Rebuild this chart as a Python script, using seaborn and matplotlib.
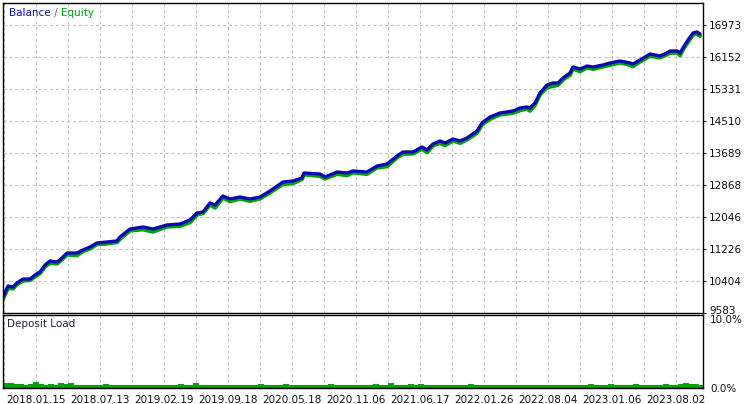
import numpy as np
import matplotlib
matplotlib.use("Agg")
import matplotlib.pyplot as plt
import matplotlib.transforms as mtransforms
from matplotlib.offsetbox import TextArea, HPacker, AnchoredOffsetbox
import seaborn as sns

# deal number (trade sequence) and account curves
deal_no = [0, 2, 5, 10, 14, 20, 27, 32, 37, 42, 47, 54, 57, 64, 74, 80, 87, 94, 104, 114,
           117, 127, 140, 150, 164, 177, 187, 194, 200, 207, 212, 220, 227, 237, 247, 257, 267, 280, 290, 299,
           301, 317, 322, 334, 344, 350, 364, 374, 384, 394, 400, 410, 419, 424, 430, 437, 442, 450, 457, 464,
           474, 479, 487, 497, 510, 517, 524, 527, 532, 537, 544, 550, 555, 560, 567, 570, 577, 584, 590, 600,
           607, 617, 627, 630, 637, 647, 657, 664, 667, 674, 677, 680, 685, 690, 694, 697]
balance = [10000, 10096, 10276, 10250, 10353, 10455, 10455, 10558, 10635, 10814, 10917, 10891, 10943, 11122,
           11122, 11199, 11276, 11379, 11405, 11430, 11533, 11738, 11789, 11738, 11841, 11866, 11969, 12149,
           12174, 12405, 12354, 12585, 12508, 12559, 12508, 12559, 12713, 12944, 12970, 13047, 13175, 13149,
           13072, 13200, 13175, 13226, 13200, 13354, 13406, 13611, 13714, 13714, 13842, 13765, 13919, 13996,
           13945, 14047, 13996, 14073, 14252, 14458, 14612, 14714, 14766, 14842, 14868, 14842, 14971, 15227,
           15433, 15484, 15484, 15612, 15740, 15894, 15843, 15920, 15894, 15946, 15997, 16048, 15997, 15971,
           16074, 16228, 16177, 16254, 16305, 16305, 16254, 16382, 16587, 16767, 16792, 16741]
equity = [9940, 10056, 10226, 10210, 10323, 10415, 10425, 10518, 10605, 10774, 10867, 10851, 10913, 11082,
          11062, 11169, 11236, 11349, 11365, 11400, 11483, 11698, 11729, 11668, 11801, 11816, 11909, 12109,
          12144, 12365, 12284, 12545, 12448, 12519, 12458, 12519, 12673, 12894, 12910, 13017, 13135, 13099,
          13032, 13150, 13115, 13186, 13150, 13314, 13346, 13571, 13664, 13674, 13792, 13705, 13879, 13946,
          13885, 14007, 13946, 14033, 14202, 14418, 14562, 14674, 14716, 14782, 14828, 14772, 14921, 15187,
          15373, 15404, 15434, 15572, 15690, 15854, 15783, 15880, 15844, 15906, 15947, 16008, 15947, 15911,
          16034, 16178, 16137, 16214, 16255, 16265, 16194, 16342, 16537, 16727, 16742, 16691]

# deposit load in %, one value per 5 deals
deposit_load = [0.75, 0.7, 0.55, 0.5, 0.45, 0.6, 0.85, 0.5, 0.45, 0.5,
                0.45, 0.65, 0.5, 0.7, 0.4, 0.45, 0.4, 0.4, 0.35, 0.4,
                0.5, 0.35, 0.35, 0.4, 0.35, 0.35, 0.4, 0.35, 0.45, 0.4,
                0.35, 0.4, 0.35, 0.4, 0.35, 0.55, 0.4, 0.35, 0.65, 0.45,
                0.4, 0.35, 0.35, 0.4, 0.35, 0.35, 0.4, 0.35, 0.35, 0.4,
                0.35, 0.5, 0.4, 0.35, 0.4, 0.35, 0.5, 0.4, 0.35, 0.4,
                0.35, 0.4, 0.35, 0.4, 0.35, 0.5, 0.4, 0.35, 0.4, 0.45,
                0.4, 0.35, 0.45, 0.4, 0.55, 0.45, 0.4, 0.7, 0.45, 0.4,
                0.4, 0.55, 0.4, 0.5, 0.4, 0.35, 0.4, 0.35, 0.4, 0.35,
                0.4, 0.35, 0.4, 0.55, 0.4, 0.35, 0.4, 0.35, 0.4, 0.35,
                0.4, 0.35, 0.4, 0.45, 0.4, 0.35, 0.4, 0.35, 0.4, 0.35,
                0.35, 0.4, 0.35, 0.4, 0.35, 0.4, 0.4, 0.6, 0.4, 0.35,
                0.4, 0.5, 0.4, 0.35, 0.4, 0.4, 0.55, 0.4, 0.4, 0.45,
                0.4, 0.45, 0.6, 0.45, 0.4, 0.5, 0.65, 0.5, 0.6, 0.4]

y_ticks = [9583, 10404, 11226, 12046, 12868, 13689, 14510, 15331, 16152, 16973]
date_labels = ["2018.01.15", "2018.07.13", "2019.02.19", "2019.09.18", "2020.05.18", "2020.11.06",
               "2021.06.17", "2022.01.26", "2022.08.04", "2023.01.06", "2023.08.02"]

BLUE = "#0a0ab4"
GREEN = "#00a400"
GRID = "#c8c8c8"
TXT = "#101010"

sns.set_style("white")
plt.rcParams["font.family"] = ["DejaVu Sans"]
plt.rcParams["font.size"] = 7.5

W, H = 746, 404
fig = plt.figure(figsize=(W / 100, H / 100), dpi=100)
ax = fig.add_axes([3 / W, 1 - 313 / H, 700 / W, 310 / H])
ax2 = fig.add_axes([3 / W, 1 - 388 / H, 700 / W, 73 / H])

x_max = 700
major = np.arange(1, x_max, 64)
minor = np.arange(33, x_max, 64)

for a in (ax, ax2):
    a.set_xlim(0, x_max)
    a.set_xticks(major)
    a.set_xticks(minor, minor=True)
    a.grid(True, axis="x", which="both", color=GRID, lw=0.8, ls=(0, (3, 2.2)))
    a.set_axisbelow(True)
    for s in a.spines.values():
        s.set_color("black")
        s.set_linewidth(1.0)
    a.tick_params(which="minor", length=0)

# main panel
sns.lineplot(x=deal_no, y=equity, ax=ax, color=GREEN, lw=3.0, estimator=None, sort=False)
sns.lineplot(x=deal_no, y=balance, ax=ax, color=BLUE, lw=2.4, estimator=None, sort=False)
ax.set_ylim(9583, 17536)
ax.yaxis.tick_right()
ax.set_yticks(y_ticks)
ax.set_yticklabels([str(v) for v in y_ticks], color=TXT)
ax.grid(True, axis="y", color=GRID, lw=0.8, ls=(0, (3, 2.2)))
ax.tick_params(axis="y", length=2.5, width=0.8, pad=2, colors=TXT)
ax.tick_params(axis="x", which="both", length=0, labelbottom=False)
ax.set_xlabel("")
ax.set_ylabel("")
# lowest balance label sits just above the panel divider
up = mtransforms.ScaledTranslation(0, 3 / 100, fig.dpi_scale_trans)
low_lab = ax.get_yticklabels()[0]
low_lab.set_transform(low_lab.get_transform() + up)

legend = HPacker(children=[TextArea("Balance", textprops=dict(color=BLUE, size=7.5)),
                           TextArea(" / ", textprops=dict(color="#606060", size=7.5)),
                           TextArea("Equity", textprops=dict(color=GREEN, size=7.5))],
                 align="baseline", pad=0, sep=0)
ax.add_artist(AnchoredOffsetbox(loc="upper left", child=legend, frameon=False,
                                pad=0.0, borderpad=0.35, bbox_to_anchor=(0.004, 0.995),
                                bbox_transform=ax.transAxes))

# deposit load panel
load_x = np.linspace(0, x_max, len(deposit_load) + 1)
load_y = deposit_load + [deposit_load[-1]]
ax2.fill_between(load_x, load_y, step="post", color=GREEN, lw=0)
sns.lineplot(x=load_x, y=load_y, ax=ax2, color=GREEN, lw=0.8, drawstyle="steps-post",
             estimator=None, sort=False)
ax2.set_ylim(0, 10)
ax2.yaxis.tick_right()
ax2.set_yticks([0, 10])
ax2.set_yticklabels(["0.0%", "10.0%"], color=TXT)
top_lab = ax2.get_yticklabels()[1]
top_lab.set_va("top")
down = mtransforms.ScaledTranslation(0, -1 / 100, fig.dpi_scale_trans)
top_lab.set_transform(top_lab.get_transform() + down)
ax2.tick_params(axis="y", length=0, pad=5, colors=TXT)
ax2.set_xticklabels(date_labels, color=TXT)
ax2.tick_params(axis="x", which="major", length=4, width=0.8, pad=1, colors=TXT)
shift = mtransforms.ScaledTranslation(2 / 100, 0, fig.dpi_scale_trans)
for lab in ax2.get_xticklabels():
    lab.set_ha("left")
    lab.set_transform(lab.get_transform() + shift)
ax2.set_xlabel("")
ax2.set_ylabel("")
ax2.text(0.006, 0.95, "Deposit Load", transform=ax2.transAxes, ha="left", va="top",
         color="#202040", fontsize=7.5)

fig.savefig("out.png", dpi=100)
